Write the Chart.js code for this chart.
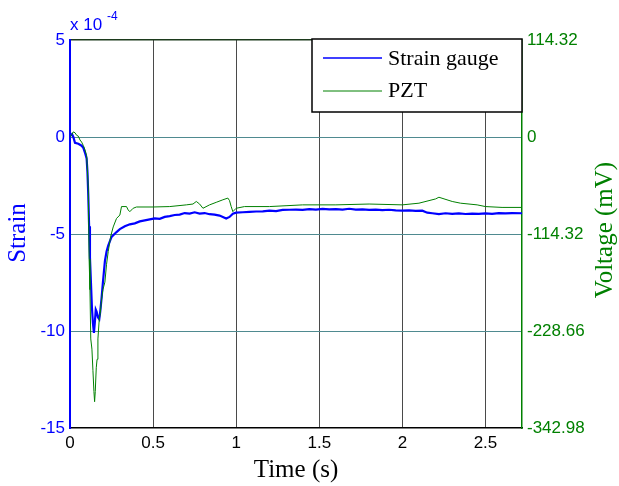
<!DOCTYPE html>
<html>
<head>
<meta charset="utf-8">
<script src="https://cdn.jsdelivr.net/npm/chart.js@4"></script>
<style>
  html, body { margin: 0; padding: 0; background: #fff; }
  #wrap { width: 619px; height: 486px; }
</style>
</head>
<body>
<div id="wrap"><canvas id="strainChart" width="619" height="486"></canvas></div>
<script>
// strain gauge trace (strain in units of 1e-4)
var strainTime = [0, 0.012, 0.02, 0.03, 0.05, 0.07, 0.08, 0.09, 0.10, 0.105, 0.11, 0.115, 0.12, 0.126, 0.132, 0.138, 0.144, 0.15, 0.155, 0.16, 0.168, 0.176, 0.182, 0.19, 0.198, 0.21, 0.22, 0.23, 0.25, 0.28,
    0.30, 0.33, 0.36, 0.39, 0.42, 0.45, 0.48, 0.51, 0.54, 0.57, 0.60, 0.63, 0.66, 0.69, 0.72, 0.75, 0.78, 0.81, 0.84, 0.87, 0.90, 0.92, 0.94, 0.96, 0.98,
    1.00, 1.04, 1.08, 1.12, 1.16, 1.20, 1.24, 1.28, 1.32, 1.36, 1.40, 1.44, 1.48, 1.52, 1.56, 1.60, 1.64, 1.68, 1.72, 1.76, 1.80, 1.84, 1.88, 1.92, 1.96,
    2.00, 2.04, 2.08, 2.12, 2.15, 2.18, 2.22, 2.26, 2.30, 2.34, 2.38, 2.42, 2.46, 2.50, 2.54, 2.58, 2.62, 2.66, 2.72];
var strainValues = [0.05, 0.15, 0.0, -0.3, -0.35, -0.45, -0.55, -0.8, -1.1, -1.8, -3.0, -4.6, -6.2, -7.5, -8.8, -9.6, -10.1, -9.5, -8.9, -9.0, -9.3, -9.4, -9.0, -8.3, -7.5, -6.4, -5.9, -5.6, -5.15, -4.9,
    -4.75, -4.6, -4.5, -4.45, -4.35, -4.3, -4.25, -4.2, -4.22, -4.12, -4.08, -4.02, -4.0, -3.92, -3.95, -3.88, -3.95, -3.92, -3.98, -4.0, -4.05, -4.12, -4.2, -4.12, -3.95,
    -3.9, -3.88, -3.86, -3.84, -3.83, -3.8, -3.82, -3.76, -3.75, -3.74, -3.76, -3.72, -3.74, -3.71, -3.73, -3.72, -3.74, -3.7, -3.74, -3.73, -3.76, -3.74, -3.77, -3.75, -3.78,
    -3.79, -3.78, -3.81, -3.8, -3.9, -3.93, -3.97, -3.93, -3.96, -3.94, -3.97, -3.95, -3.96, -3.94, -3.96, -3.92, -3.94, -3.92, -3.93];

// PZT trace (mV)
var pztTime = [0, 0.012, 0.02, 0.03, 0.04, 0.05, 0.06, 0.07, 0.08, 0.09, 0.10, 0.105, 0.11, 0.115, 0.12, 0.125, 0.132, 0.138, 0.144, 0.148, 0.152, 0.158, 0.163, 0.168, 0.176, 0.182, 0.19, 0.198, 0.21, 0.22, 0.23, 0.245, 0.26, 0.28, 0.30, 0.31,
    0.34, 0.35, 0.36, 0.38, 0.40, 0.50, 0.60, 0.70, 0.74, 0.76, 0.78, 0.80, 0.84, 0.88, 0.92, 0.95, 0.96, 0.97, 0.98, 0.99, 1.00,
    1.05, 1.20, 1.30, 1.40, 1.60, 1.80, 2.00, 2.10, 2.20, 2.22, 2.30, 2.35, 2.45, 2.50, 2.60, 2.72];
var pztValues = [0, 3, 6, 5, 2, 1, -3.5, -6, -10, -15, -22, -40, -60, -144, -180, -238, -250, -275, -300, -312, -300, -272, -262, -238, -215, -208, -191, -180, -171, -150, -135, -117, -106, -96, -92, -82,
    -82, -86, -88, -84, -82.5, -82.5, -82, -80, -79, -76, -79, -84, -80, -77, -74, -72, -75, -82, -88, -86, -84,
    -82, -82, -81, -80, -80, -79, -80, -78, -73, -71, -76, -78, -80, -82, -83, -83];

var strainTicks = [-15, -10, -5, 0, 5];
var voltageTicks = [-342.98, -228.66, -114.32, 0, 114.32];
var timeTicks = [0, 0.5, 1, 1.5, 2, 2.5];

var BLUE = '#0000ff';
var GREEN = '#008000';
var TEAL = '#4f8a90';

function toPoints(xs, ys) {
    var pts = [];
    for (var i = 0; i < xs.length; i++) pts.push({ x: xs[i], y: ys[i] });
    return pts;
}

// legend box, exponent and axis titles drawn on top
var decorations = {
    id: 'decorations',
    afterDraw: function (chart) {
        var c = chart.ctx;
        var a = chart.chartArea;
        c.save();

        // exponent of the strain axis
        c.fillStyle = BLUE;
        c.textBaseline = 'alphabetic';
        c.textAlign = 'left';
        c.font = '17px "Liberation Sans", Arial';
        c.fillText('x 10', 70, 30);
        c.font = '12px "Liberation Sans", Arial';
        c.fillText('-4', 107, 20);

        // axis titles
        c.font = '25px "Liberation Serif", "Times New Roman"';
        c.textAlign = 'center';
        c.textBaseline = 'middle';
        c.fillStyle = '#000';
        c.fillText('Time (s)', (a.left + a.right) / 2, 470);

        c.save();
        c.translate(18, 233);
        c.rotate(-Math.PI / 2);
        c.fillStyle = BLUE;
        c.fillText('Strain', 0, 0);
        c.restore();

        c.save();
        c.translate(605, 230);
        c.rotate(-Math.PI / 2);
        c.fillStyle = GREEN;
        c.fillText('Voltage (mV)', 0, 0);
        c.restore();

        // legend
        var lx = 312, ly = a.top - 1, lw = a.right - 312, lh = 73;
        c.fillStyle = '#fff';
        c.fillRect(lx, ly, lw, lh);
        c.strokeStyle = '#000';
        c.lineWidth = 1.5;
        c.strokeRect(lx, ly, lw, lh);

        c.lineWidth = 1.5;
        c.strokeStyle = BLUE;
        c.beginPath(); c.moveTo(323, 58); c.lineTo(382, 58); c.stroke();
        c.lineWidth = 1;
        c.strokeStyle = GREEN;
        c.beginPath(); c.moveTo(323, 91); c.lineTo(382, 91); c.stroke();

        c.fillStyle = '#000';
        c.textAlign = 'left';
        c.font = '22px "Liberation Serif", "Times New Roman"';
        c.fillText('Strain gauge', 388, 59);
        c.fillText('PZT', 388, 91);

        c.restore();
    }
};

var ctx = document.getElementById('strainChart');

new Chart(ctx, {
    type: 'line',
    data: {
        datasets: [{
            label: 'PZT',
            data: toPoints(pztTime, pztValues),
            yAxisID: 'y1',
            borderColor: GREEN,
            borderWidth: 1,
            pointRadius: 0,
            tension: 0,
            order: 0
        }, {
            label: 'Strain gauge',
            data: toPoints(strainTime, strainValues),
            yAxisID: 'y',
            borderColor: BLUE,
            borderWidth: 2.2,
            pointRadius: 0,
            tension: 0,
            order: 1
        }]
    },
    plugins: [decorations],
    options: {
        responsive: false,
        animation: false,
        layout: { padding: { top: 40, left: 0, right: 0, bottom: 0 } },
        plugins: {
            legend: { display: false },
            tooltip: { enabled: false }
        },
        scales: {
            x: {
                type: 'linear',
                min: 0,
                max: 2.72,
                afterFit: function (s) { s.height = 58; },
                afterBuildTicks: function (s) {
                    s.ticks = timeTicks.map(function (v) { return { value: v }; });
                },
                ticks: {
                    color: '#000',
                    padding: 5,
                    maxRotation: 0,
                    font: { family: '"Liberation Sans", Arial', size: 17 },
                    callback: function (v) { return String(v); }
                },
                grid: {
                    drawTicks: false,
                    color: function (c) { return c.tick && c.tick.value === 0 ? 'rgba(0,0,0,0)' : '#4a4a4a'; },
                    lineWidth: 1
                },
                border: { color: '#000', width: 1.5 }
            },
            y: {
                position: 'left',
                min: -15,
                max: 5,
                afterFit: function (s) { s.width = 70; },
                afterBuildTicks: function (s) {
                    s.ticks = strainTicks.map(function (v) { return { value: v }; });
                },
                ticks: {
                    color: BLUE,
                    padding: 5,
                    font: { family: '"Liberation Sans", Arial', size: 17 }
                },
                grid: {
                    drawTicks: false,
                    color: function (c) {
                        var v = c.tick ? c.tick.value : null;
                        if (v === 5) return '#1c3a1c';
                        if (v === -15) return 'rgba(0,0,0,0)';
                        return TEAL;
                    },
                    lineWidth: function (c) { return c.tick && c.tick.value === 5 ? 1.5 : 1; }
                },
                border: { color: BLUE, width: 2 }
            },
            y1: {
                position: 'right',
                min: -342.98,
                max: 114.32,
                afterFit: function (s) { s.width = 97; },
                afterBuildTicks: function (s) {
                    s.ticks = voltageTicks.map(function (v) { return { value: v }; });
                },
                ticks: {
                    color: GREEN,
                    padding: 5,
                    font: { family: '"Liberation Sans", Arial', size: 17 },
                    callback: function (v) { return String(v); }
                },
                grid: { display: false, drawTicks: false },
                border: { color: GREEN, width: 1.5 }
            }
        }
    }
});
</script>
</body>
</html>
